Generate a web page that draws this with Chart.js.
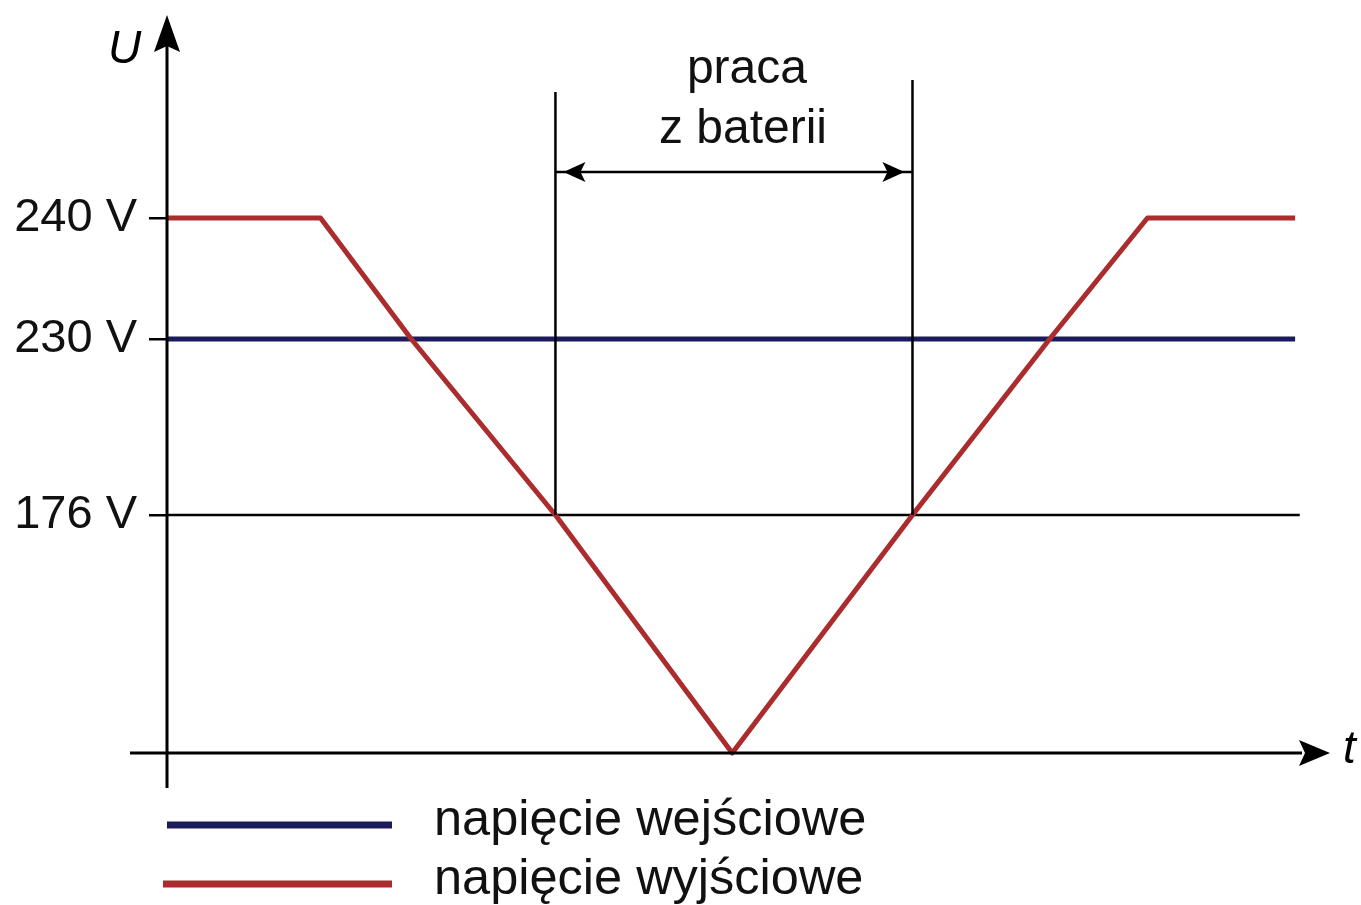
<!DOCTYPE html>
<html>
<head>
<meta charset="utf-8">
<script src="https://cdn.jsdelivr.net/npm/chart.js@4"></script>
<style>
  html, body { margin: 0; padding: 0; background: #fff; }
  canvas { display: block; }
</style>
</head>
<body>
<canvas id="ups" width="1361" height="905"></canvas>
<script>
// values (time in arbitrary units, voltage in V)
var inputT = [0, 97.0];
var inputU = [230, 230];
var outputT = [0, 13.2, 21.0, 33.4, 48.6, 64.1, 75.9, 84.3, 97.0];
var outputU = [240, 240, 230, 176, 0, 176, 230, 240, 240];
var thresholdT = [0, 97.4];
var thresholdU = [176, 176];
var yTicks = [176, 230, 240];
var batteryStart = 33.4;
var batteryEnd = 64.1;
var labels = ['napięcie wejściowe', 'napięcie wyjściowe'];

var FONT = '"Liberation Sans", Arial, sans-serif';
var BLUE = '#1b1a5c';
var RED = '#aa2c2c';

// the voltage axis of the sketch is not to scale: map it piece by piece
var breakVals = [0, 176, 230, 240, 300];
var breakDec = [0, 0.3225, 0.561, 0.7249, 1];

function toDec(v) {
  for (var i = 1; i < breakVals.length; i++) {
    if (v <= breakVals[i] || i === breakVals.length - 1) {
      var a = breakVals[i - 1], b = breakVals[i];
      return breakDec[i - 1] + (v - a) / (b - a) * (breakDec[i] - breakDec[i - 1]);
    }
  }
}
function fromDec(d) {
  for (var i = 1; i < breakDec.length; i++) {
    if (d <= breakDec[i] || i === breakDec.length - 1) {
      var a = breakDec[i - 1], b = breakDec[i];
      return breakVals[i - 1] + (d - a) / (b - a) * (breakVals[i] - breakVals[i - 1]);
    }
  }
}

class PiecewiseScale extends Chart.LinearScale {
  getPixelForValue(value) {
    return this.getPixelForDecimal(toDec(value));
  }
  getValueForPixel(pixel) {
    return fromDec(this.getDecimalForPixel(pixel));
  }
}
PiecewiseScale.id = 'piecewise';
PiecewiseScale.defaults = {};
Chart.register(PiecewiseScale);

function pts(xs, ys) {
  return xs.map(function(x, i) { return {x: x, y: ys[i]}; });
}

// axes with arrows, annotation and legend are drawn on top
var sketch = {
  id: 'sketch',
  afterDraw: function(chart) {
    var ctx = chart.ctx;
    var xs = chart.scales.x, ys = chart.scales.y;
    var area = chart.chartArea;
    var x0 = area.left, y0 = ys.getPixelForValue(0);
    ctx.save();
    ctx.strokeStyle = '#000';
    ctx.fillStyle = '#000';
    ctx.lineWidth = 3;

    // U axis
    ctx.beginPath();
    ctx.moveTo(x0, y0 + 35);
    ctx.lineTo(x0, area.top + 30);
    ctx.stroke();
    ctx.beginPath();
    ctx.moveTo(x0, area.top);
    ctx.lineTo(x0 + 13, area.top + 37);
    ctx.lineTo(x0, area.top + 31);
    ctx.lineTo(x0 - 13, area.top + 37);
    ctx.closePath();
    ctx.fill();

    // t axis
    ctx.beginPath();
    ctx.moveTo(x0 - 37, y0);
    ctx.lineTo(area.right - 28, y0);
    ctx.stroke();
    ctx.beginPath();
    ctx.moveTo(area.right, y0);
    ctx.lineTo(area.right - 31, y0 - 13);
    ctx.lineTo(area.right - 25, y0);
    ctx.lineTo(area.right - 31, y0 + 13);
    ctx.closePath();
    ctx.fill();

    ctx.font = 'italic 46px ' + FONT;
    ctx.textBaseline = 'alphabetic';
    ctx.textAlign = 'left';
    ctx.fillText('U', 108, 63);
    ctx.fillText('t', area.right + 13, y0 + 10);

    // battery work span
    var xa = xs.getPixelForValue(batteryStart);
    var xb = xs.getPixelForValue(batteryEnd);
    var yl = ys.getPixelForValue(176);
    ctx.lineWidth = 2.5;
    ctx.beginPath();
    ctx.moveTo(xa, yl); ctx.lineTo(xa, area.top + 77);
    ctx.moveTo(xb, yl); ctx.lineTo(xb, area.top + 65);
    var ya = area.top + 157;
    ctx.moveTo(xa, ya); ctx.lineTo(xb, ya);
    ctx.stroke();
    ctx.beginPath();
    ctx.moveTo(xa + 8, ya);
    ctx.lineTo(xa + 30, ya - 10);
    ctx.lineTo(xa + 25, ya);
    ctx.lineTo(xa + 30, ya + 10);
    ctx.closePath();
    ctx.moveTo(xb - 8, ya);
    ctx.lineTo(xb - 30, ya - 10);
    ctx.lineTo(xb - 25, ya);
    ctx.lineTo(xb - 30, ya + 10);
    ctx.closePath();
    ctx.fill();

    ctx.font = '48px ' + FONT;
    ctx.textAlign = 'center';
    ctx.fillStyle = '#111';
    var xm = (xa + xb) / 2;
    ctx.fillText('praca', xm + 13, 83);
    ctx.fillText('z baterii', xm + 9, 143);

    // legend
    var items = chart.data.datasets.filter(function(d) { return labels.indexOf(d.label) >= 0; })
      .sort(function(a, b) { return labels.indexOf(a.label) - labels.indexOf(b.label); });
    ctx.textAlign = 'left';
    ctx.font = '50.5px ' + FONT;
    items.forEach(function(d, i) {
      var ly = 825 + i * 59;
      ctx.strokeStyle = d.borderColor;
      ctx.lineWidth = 7;
      ctx.beginPath();
      ctx.moveTo(x0 - (i ? 4 : 0), ly);
      ctx.lineTo(392, ly);
      ctx.stroke();
      ctx.fillStyle = '#111';
      ctx.fillText(d.label, 434, ly + 10);
    });
    ctx.restore();
  }
};

new Chart('ups', {
  type: 'line',
  data: {
    datasets: [
      {
        label: labels[1],
        data: pts(outputT, outputU),
        borderColor: RED,
        borderWidth: 5,
        borderJoinStyle: 'round',
        pointRadius: 0,
        clip: false
      },
      {
        label: labels[0],
        data: pts(inputT, inputU),
        borderColor: BLUE,
        borderWidth: 5,
        pointRadius: 0,
        clip: false
      },
      {
        label: '176 V',
        data: pts(thresholdT, thresholdU),
        borderColor: '#000',
        borderWidth: 2.5,
        pointRadius: 0,
        clip: false
      }
    ]
  },
  options: {
    responsive: false,
    animation: false,
    layout: { padding: { top: 15, right: 31, bottom: 152, left: 0 } },
    plugins: {
      legend: { display: false },
      tooltip: { enabled: false }
    },
    scales: {
      x: {
        type: 'linear',
        min: 0,
        max: 100,
        display: false
      },
      y: {
        type: 'piecewise',
        min: 0,
        max: 300,
        afterFit: function(scale) {
          scale.width = 167;
          scale.paddingTop = 0;
          scale.paddingBottom = 0;
        },
        afterBuildTicks: function(scale) {
          scale.ticks = yTicks.map(function(v) { return {value: v}; });
        },
        border: { display: false },
        grid: {
          drawOnChartArea: false,
          drawTicks: true,
          tickLength: 18,
          color: '#000',
          lineWidth: 2.5
        },
        ticks: {
          autoSkip: false,
          padding: 12,
          color: '#111',
          font: { family: FONT, size: 47 },
          callback: function(v) { return v + ' V'; }
        }
      }
    }
  },
  plugins: [sketch]
});
</script>
</body>
</html>
